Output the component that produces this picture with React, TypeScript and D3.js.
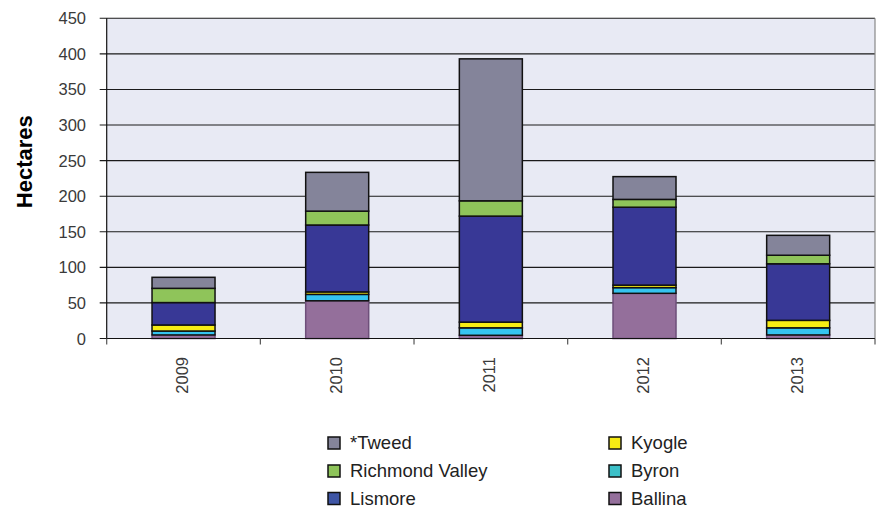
import React from 'react';
import * as d3 from 'd3';

const years = ['2009', '2010', '2011', '2012', '2013'];
const ballina = [5, 53, 4.5, 63.5, 5];
const byron = [5.5, 9, 10.5, 8, 10];
const kyogle = [8.5, 3.5, 8, 3.5, 10.5];
const lismore = [31.5, 94, 149, 109.5, 79.5];
const richmondValley = [20, 19.5, 21.5, 11, 12];
const tweed = [15.5, 54.5, 199.5, 32, 28];

const seriesKeys = ['Ballina', 'Byron', 'Kyogle', 'Lismore', 'Richmond Valley', '*Tweed'];
const seriesValues = [ballina, byron, kyogle, lismore, richmondValley, tweed];
const barColors = ['#946f9b', '#35c4f0', '#f7ec14', '#383896', '#8fc45a', '#84849a'];
const barStrokes = ['#6e4f7a', '#111', '#111', '#111', '#111', '#111'];
const legendColors = ['#946f9b', '#3cc0c8', '#f5ea14', '#3e55a5', '#8ec45a', '#84849a'];
const yTicks = [0, 50, 100, 150, 200, 250, 300, 350, 400, 450];

// legend layout order: left column then right column
const legendLeft = ['*Tweed', 'Richmond Valley', 'Lismore'];
const legendRight = ['Kyogle', 'Byron', 'Ballina'];

const W = 879;
const H = 509;
const plotLeft = 106.7;
const plotRight = 875;
const plotTop = 18.3;
const plotBottom = 338.5;
const FONT = '"Liberation Sans", Arial, Helvetica, sans-serif';

export default function App() {
  const rows = years.map((y, i) => {
    const r: any = { year: y };
    seriesKeys.forEach((k, j) => (r[k] = seriesValues[j][i]));
    return r;
  });
  const stacked = d3.stack<any>().keys(seriesKeys)(rows);

  const x = d3.scaleBand<string>().domain(years).range([plotLeft, plotRight]).paddingInner(0.59).paddingOuter(0.295);
  const y = d3.scaleLinear().domain([0, 450]).range([plotBottom, plotTop]);
  const step = x.step();
  const boundaries = d3.range(years.length + 1).map((i) => plotLeft + i * step);

  const legendRow = [443, 471, 498.5];

  return (
    <svg width={W} height={H} style={{ position: 'absolute', left: 0, top: 0, background: '#fff' }} fontFamily={FONT}>
      <rect x={plotLeft} y={plotTop} width={plotRight - plotLeft} height={plotBottom - plotTop} fill="#e8eaf4" />
      {/* gridlines and y ticks */}
      {yTicks.map((t) => (
        <g key={t}>
          <line x1={plotLeft - 7} x2={plotRight} y1={y(t)} y2={y(t)} stroke="#1a1a1a" strokeWidth={1.1} />
          <text x={86} y={y(t)} textAnchor="end" dominantBaseline="central" fontSize={16.5} fill="#3a3a3a">
            {t}
          </text>
        </g>
      ))}
      {/* bars */}
      {stacked.map((s, j) => (
        <g key={s.key}>
          {s.map((d, i) => (
            <rect
              key={i}
              x={x(years[i])}
              width={x.bandwidth()}
              y={y(d[1])}
              height={y(d[0]) - y(d[1])}
              fill={barColors[j]}
              stroke={barStrokes[j]}
              strokeWidth={1.5}
            />
          ))}
        </g>
      ))}
      {/* axes */}
      <line x1={plotLeft} x2={plotLeft} y1={plotTop} y2={plotBottom} stroke="#111" strokeWidth={1.2} />
      <line x1={plotRight} x2={plotRight} y1={plotTop} y2={plotBottom} stroke="#888" strokeWidth={1.2} />
      <line x1={plotLeft} x2={plotRight} y1={plotBottom} y2={plotBottom} stroke="#111" strokeWidth={1.2} />
      {boundaries.map((bx, i) => (
        <line key={i} x1={bx} x2={bx} y1={plotBottom} y2={plotBottom + 6} stroke="#555" strokeWidth={1.2} />
      ))}
      {years.map((yr) => (
        <text
          key={yr}
          transform={`translate(${(x(yr) as number) + x.bandwidth() / 2 - 1.5},357) rotate(-90)`}
          textAnchor="end"
          dominantBaseline="central"
          fontSize={16.5}
          fill="#3a3a3a"
        >
          {yr}
        </text>
      ))}
      <text
        transform="translate(32,161.7) rotate(-90)"
        textAnchor="middle"
        fontSize={22}
        fontWeight="bold"
        fill="#000"
      >
        Hectares
      </text>
      {/* legend */}
      {[legendLeft, legendRight].map((col, c) =>
        col.map((name, r) => {
          const idx = seriesKeys.indexOf(name);
          const sx = c === 0 ? 328 : 609;
          const cy = legendRow[r];
          return (
            <g key={name}>
              <rect x={sx} y={cy - 6} width={12} height={12} fill={legendColors[idx]} stroke="#111" strokeWidth={1.5} />
              <text x={sx + 22} y={cy + 6.3} fontSize={18.5} fill="#222">
                {name}
              </text>
            </g>
          );
        })
      )}
    </svg>
  );
}
